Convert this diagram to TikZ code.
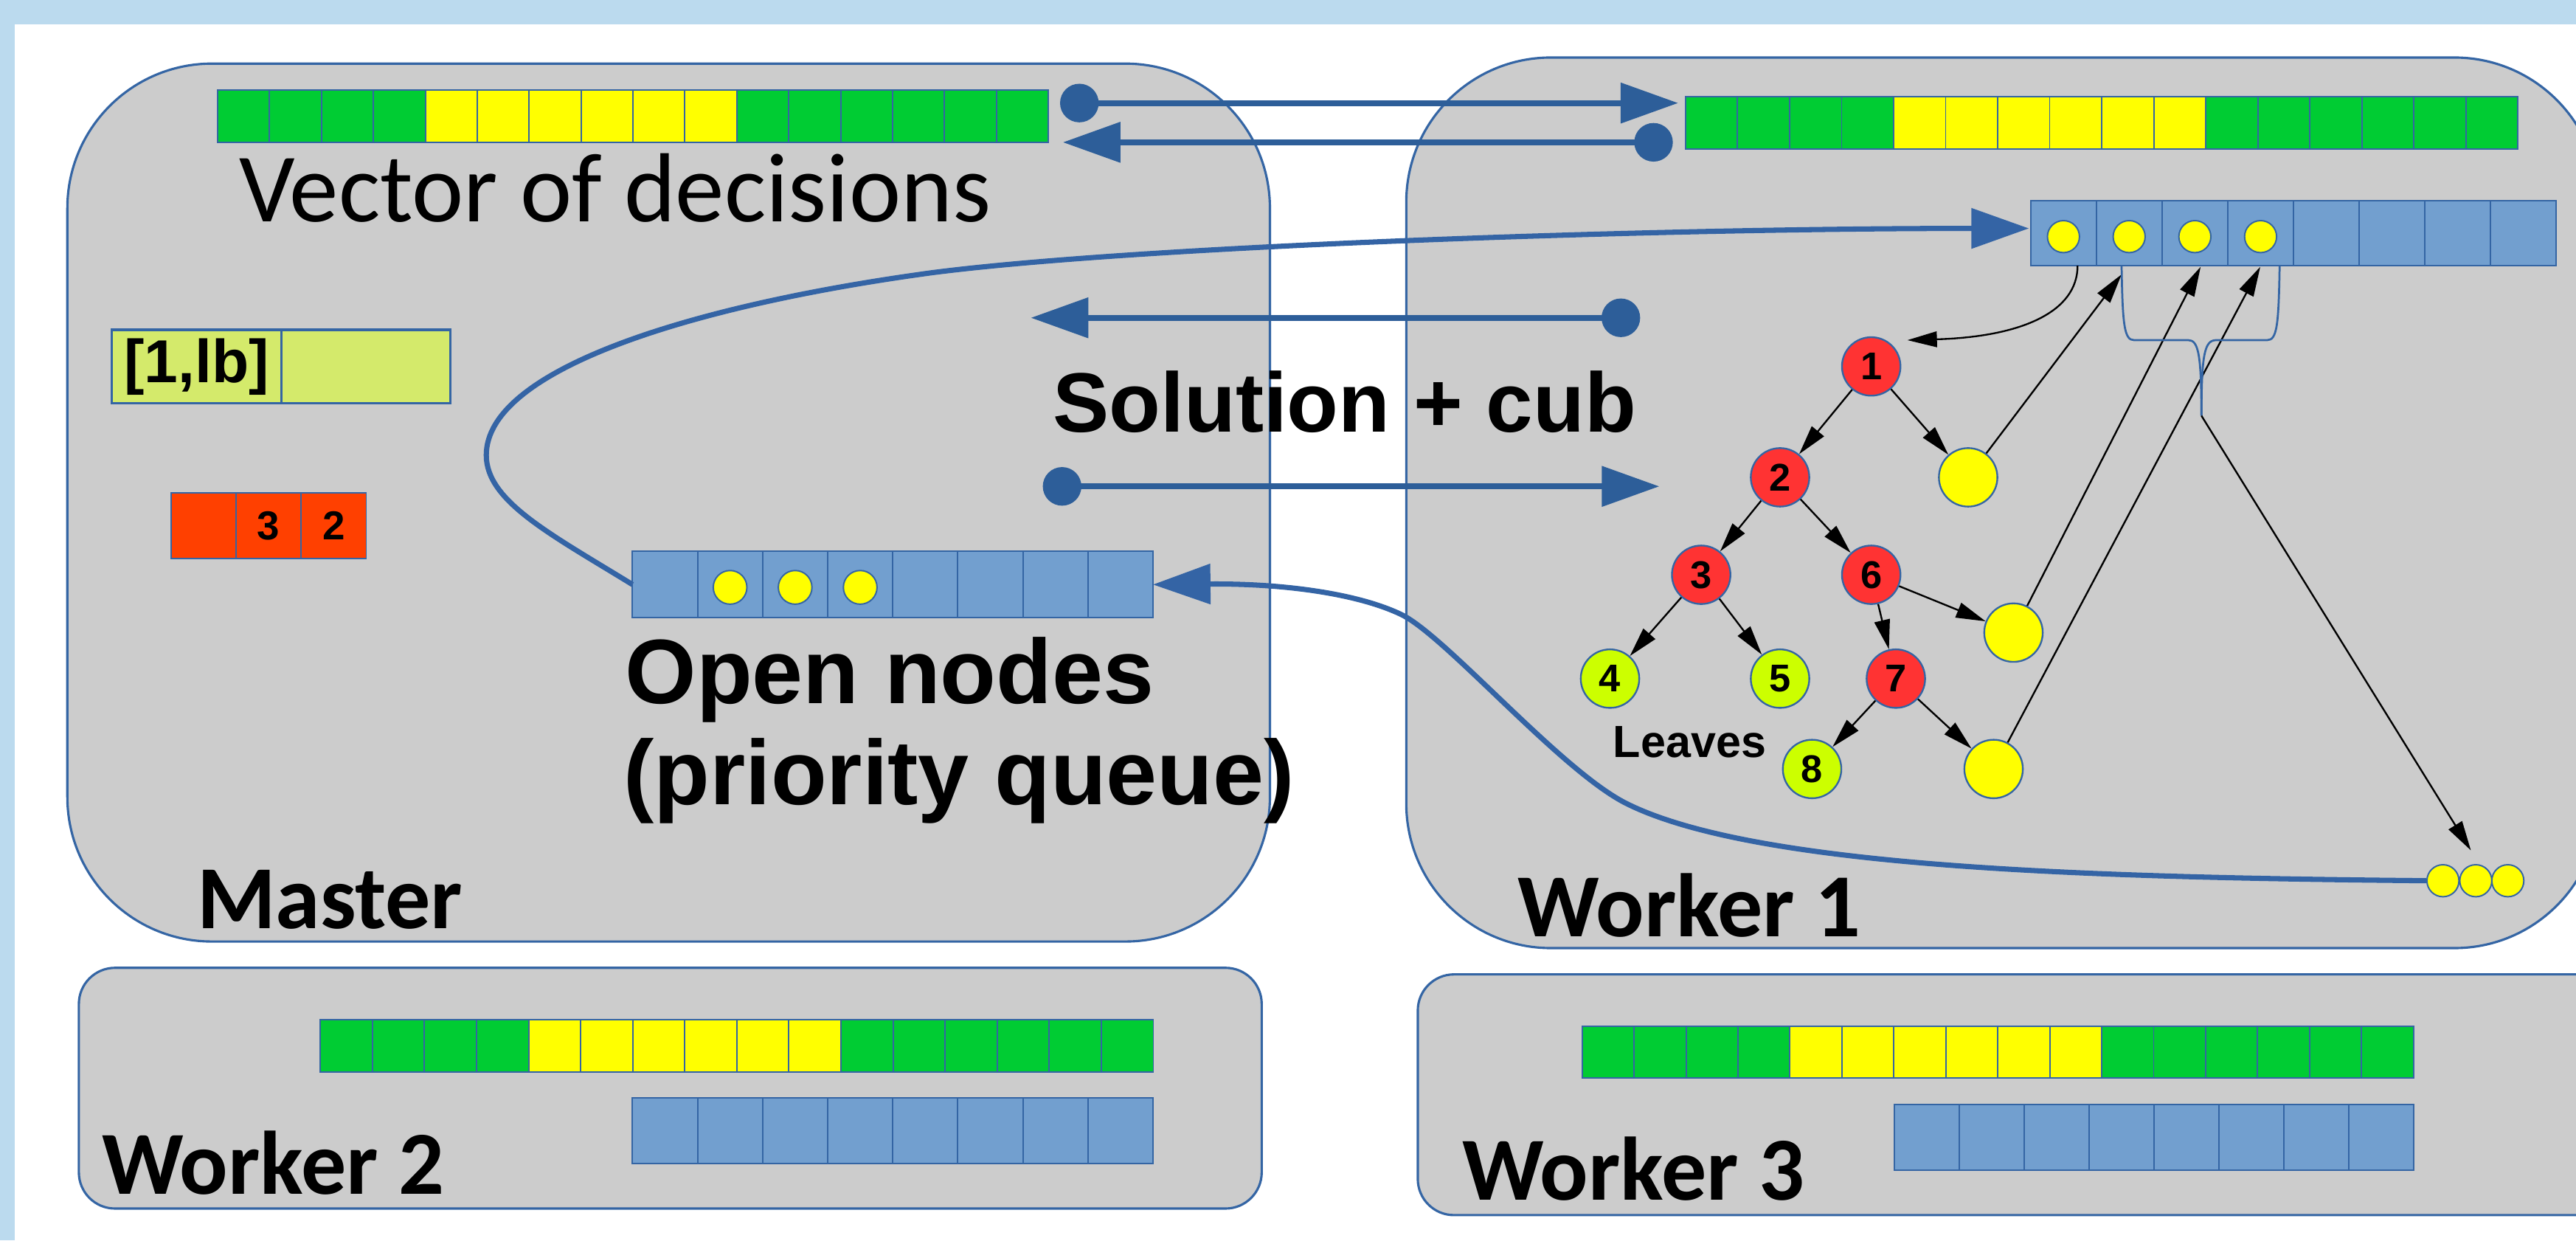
\documentclass[tikz,border=0pt]{standalone}
\usepackage{fontspec}
\setmainfont{Liberation Sans}
\newfontfamily\carlito{Carlito}
\usetikzlibrary{arrows.meta}

\definecolor{frameblue}{RGB}{187,218,238}
\definecolor{boxgray}{RGB}{204,204,204}
\definecolor{edgeblue}{RGB}{52,101,164}
\definecolor{cellblue}{RGB}{114,159,207}
\definecolor{decgreen}{RGB}{0,204,51}
\definecolor{decyellow}{RGB}{255,255,0}
\definecolor{arrowblue}{RGB}{45,94,153}
\definecolor{curveblue}{RGB}{52,100,165}
\definecolor{nodered}{RGB}{255,51,51}
\definecolor{leafgreen}{RGB}{204,255,0}
\definecolor{boundfill}{RGB}{212,234,107}
\definecolor{orangered}{RGB}{255,64,0}

% one row of 16 decision cells: 4 green, 6 yellow, 6 green
\newcommand{\decisionrow}[5]{% prefix, left, top, cell width, cell height
  \foreach \i in {1,...,16}{%
    \ifnum\i<5 \def\cellcol{decgreen}\else\ifnum\i<11 \def\cellcol{decyellow}\else\def\cellcol{decgreen}\fi\fi
    \node[cellbox, fill=\cellcol, minimum width=#4*0.1mm, minimum height=#5*0.1mm]
      (#1-\i) at ({#2+(\i-0.5)*#4},{#3+0.5*#5}) {};
  }%
}
% one queue of 8 blue cells
\newcommand{\queuerow}[5]{% prefix, left, top, cell width, cell height
  \foreach \i in {1,...,8}{%
    \node[cellbox, fill=cellblue, minimum width=#4*0.1mm, minimum height=#5*0.1mm]
      (#1-\i) at ({#2+(\i-0.5)*#4},{#3+0.5*#5}) {};
  }%
}

\begin{document}
\begin{tikzpicture}[x=0.1mm, y=-0.1mm,
  panel/.style={draw=edgeblue, line width=0.4pt, fill=boxgray, rounded corners=8.8mm,
    inner sep=0, outer sep=0, anchor=north west},
  cellbox/.style={rectangle, draw=edgeblue, line width=0.25pt, inner sep=0, outer sep=0},
  token/.style={circle, fill=decyellow, draw=edgeblue, line width=0.25pt, minimum size=1.95mm, inner sep=0},
  treenode/.style={circle, draw=edgeblue, line width=0.3pt, minimum size=3.56mm, inner sep=0,
    font=\bfseries\fontsize{6.7}{7}\selectfont},
  boundcell/.style={rectangle, draw=edgeblue, line width=0.4pt, fill=boundfill, inner sep=0,
    minimum height=4.48mm, font=\bfseries\fontsize{10.5}{12}\selectfont},
  redcell/.style={rectangle, draw=edgeblue, line width=0.25pt, fill=orangered, inner sep=0,
    minimum width=3.96mm, minimum height=3.98mm, font=\bfseries\fontsize{7}{8}\selectfont},
  label/.style={anchor=base west, inner sep=0, outer sep=0},
  dot/.style={circle, fill=arrowblue, minimum size=2.35mm, inner sep=0},
  bigarrow/.style={draw=arrowblue, line width=1pt, -{Triangle[length=3.5mm,width=2.4mm]}},
  flowcurve/.style={draw=curveblue, line width=0.9pt, -{Triangle[length=3.5mm,width=2.4mm]}},
  treearrow/.style={draw=black, line width=0.3pt, -{Triangle[length=1.8mm,width=0.95mm]}},
  bracepath/.style={draw=edgeblue, line width=0.35pt}]

\useasboundingbox (0,0) rectangle (1568,755);
\clip (0,0) rectangle (1568,755);
\fill[frameblue] (0,0) rectangle (1568,755);
\fill[white] (9,15) rectangle (1568,755);

% process panels
\node[panel, minimum width=73.2mm, minimum height=53.43mm] (master) at (41,38.7) {};
\node[panel, minimum width=72.6mm, minimum height=54.2mm] (worker1) at (856,35) {};
\node[panel, rounded corners=2.2mm, minimum width=72mm, minimum height=14.65mm] (worker2) at (48,589) {};
\node[panel, rounded corners=2.2mm, minimum width=73.7mm, minimum height=14.65mm] (worker3) at (863,593) {};

% decision vectors
\decisionrow{mdec}{132.5}{54.6}{31.6}{31.9}
\decisionrow{wadec}{1026}{59}{31.66}{31.6}
\decisionrow{wbdec}{195}{620.7}{31.69}{31.8}
\decisionrow{wcdec}{963}{624.6}{31.63}{31.4}

% node queues
\queuerow{mq}{385}{335.5}{39.6}{40.5}
\queuerow{wq}{1236}{122.3}{40}{39.4}
\queuerow{wbq}{385}{668}{39.6}{40}
\queuerow{wcq}{1153}{672}{39.5}{40}

% open nodes held in the queues
\foreach \c in {2,3,4} \node[token, minimum size=2.05mm] (mtok\c) at ([yshift=-0.17mm]mq-\c.center) {};
\foreach \c in {1,...,4} \node[token] (wtok\c) at ([yshift=-0.2mm]wq-\c.center) {};

% bound record and incumbent record
\node[boundcell, minimum width=10.34mm] (lb1) at (119.7,223.1) {[1,lb]};
\node[boundcell, minimum width=10.26mm] (lb2) at (222.7,223.1) {};
\node[redcell] (rc1) at (124,319.9) {};
\node[redcell] (rc2) at (163.55,319.9) {3};
\node[redcell] (rc3) at (203.15,319.9) {2};

% labels
\node[label, font=\carlito\fontsize{17}{20}\selectfont] (vectxt) at (145.5,134.7) {Vector of decisions};
\node[label, font=\carlito\bfseries\fontsize{15.6}{18}\selectfont] (mastertxt) at (120,565) {Master};
\node[label, font=\carlito\bfseries\fontsize{15.6}{18}\selectfont] (w1txt) at (924,570) {Worker 1};
\node[label, font=\carlito\bfseries\fontsize{15.6}{18}\selectfont] (w2txt) at (62,726.7) {Worker 2};
\node[label, font=\carlito\bfseries\fontsize{15.6}{18}\selectfont] (w3txt) at (890,730.4) {Worker 3};
\node[label, font=\bfseries\fontsize{14.6}{17}\selectfont] (soltxt) at (641,263) {Solution + cub};
\node[label, font=\bfseries\fontsize{15.85}{18}\selectfont] (opentxt) at (380.6,428) {Open nodes};
\node[label, font=\bfseries\fontsize{15.85}{18}\selectfont] (pqtxt) at (379.5,489.5) {(priority queue)};
\node[label, font=\bfseries\fontsize{7.8}{9}\selectfont] (leavestxt) at (982,461) {Leaves};

% messages between master and worker 1
\node[dot] (d1) at (657,62.7) {};
\coordinate (a1) at (1021.5,62.7);
\draw[bigarrow] (d1.center) -- (a1);
\node[dot] (d2) at (1006.5,86.6) {};
\coordinate (a2) at (647,86.6);
\draw[bigarrow] (d2.center) -- (a2);
\node[dot] (d3) at (986.6,193.4) {};
\coordinate (a3) at (627.5,193.4);
\draw[bigarrow] (d3.center) -- (a3);
\node[dot] (d4) at (646.5,296) {};
\coordinate (a4) at (1010,296);
\draw[bigarrow] (d4.center) -- (a4);

% branch-and-bound tree of worker 1
\node[treenode, fill=nodered] (n1) at (1139,223) {1};
\node[treenode, fill=nodered] (n2) at (1083.5,290.5) {2};
\node[treenode, fill=decyellow] (y1) at (1198,290.5) {};
\node[treenode, fill=nodered] (n3) at (1035.5,349.8) {3};
\node[treenode, fill=nodered] (n6) at (1139,349.8) {6};
\node[treenode, fill=leafgreen] (n4) at (980,413) {4};
\node[treenode, fill=leafgreen] (n5) at (1083.5,413) {5};
\node[treenode, fill=nodered] (n7) at (1154,413) {7};
\node[treenode, fill=decyellow] (y2) at (1225.6,385) {};
\node[treenode, fill=leafgreen] (n8) at (1103,468) {8};
\node[treenode, fill=decyellow] (y3) at (1213.5,468) {};
\foreach \a/\b in {n1/n2, n1/y1, n2/n3, n2/n6, n3/n4, n3/n5, n6/n7, n6/y2, n7/n8, n7/y3}
  \draw[treearrow] (\a) -- (\b);

% unexplored children pushed back to the local queue
\coordinate (r1) at (1291.4,167);
\coordinate (r2) at (1339.5,162.4);
\coordinate (r3) at (1375.8,162.4);
\draw[treearrow] (y1) -- (r1);
\draw[treearrow] (y2) -- (r2);
\draw[treearrow] (y3) -- (r3);

% head of the local queue taken as the tree root
\coordinate (popstart) at ([xshift=0.86mm]wq-1.south);
\coordinate (popend) at (1161,207);
\draw[treearrow] (popstart) .. controls (1264.6,190) and (1230,205) .. (popend);

% brace under the queued nodes sent to the master
\coordinate (bt) at (1340,253);
\draw[bracepath] (1291.4,161.7) .. controls (1292,198) and (1293,207) .. (1299,207) -- (1332,207)
  .. controls (1338,207) and (1340,215) .. (bt);
\draw[bracepath] (1387.6,161.7) .. controls (1387,198) and (1386,207) .. (1380,207) -- (1349,207)
  .. controls (1342,207) and (1340,215) .. (bt);
\node[token] (t1) at (1487,536) {};
\node[token] (t2) at (1507,536) {};
\node[token] (t3) at (1526.5,536) {};
\coordinate (qin) at (1504,517.5);
\draw[treearrow] (bt) -- (qin);

% master queue feeding worker 1
\coordinate (wqin) at (1235,139);
\draw[flowcurve] (mq-1.west) .. controls (335,325) and (296,305) .. (296,277)
  .. controls (296,225) and (420,186) .. (567,166)
  .. controls (690,150) and (1000,139) .. (wqin);

% surplus nodes returned to the master queue
\draw[flowcurve] (t1.west) .. controls (1280,534) and (1070,529) .. (990,489)
  .. controls (950,469) and (880,387) .. (853,374)
  .. controls (826,361) and (780,355) .. (mq-8.east);

\end{tikzpicture}
\end{document}
